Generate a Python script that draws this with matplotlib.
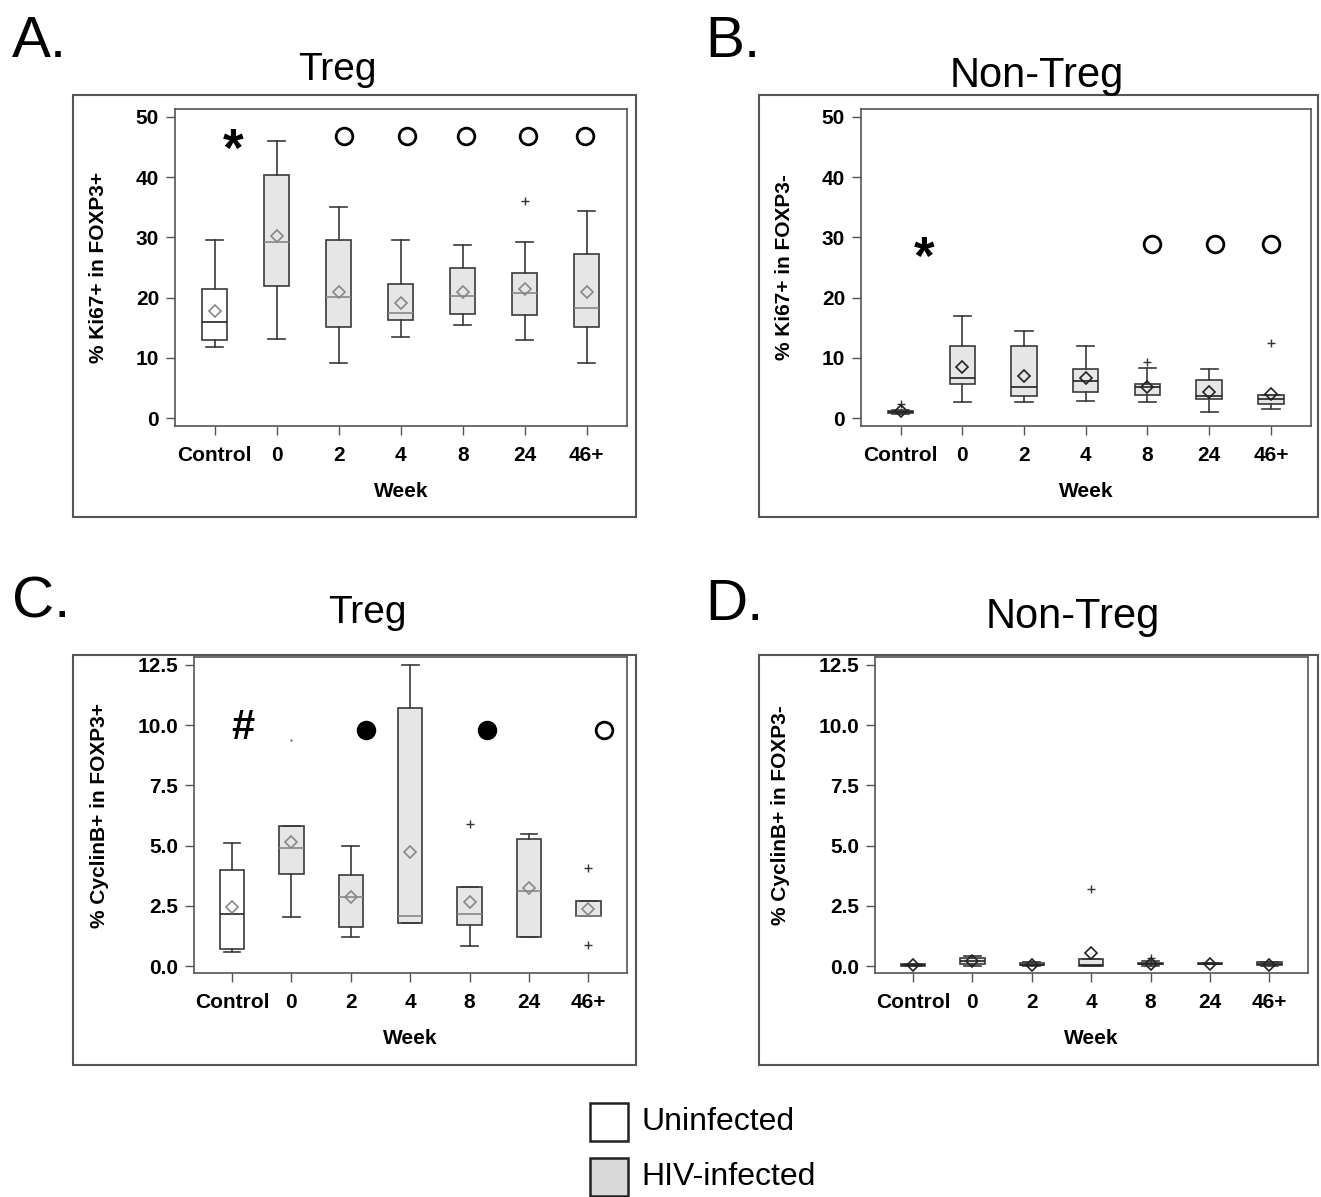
import matplotlib.pyplot as plt
from matplotlib.patches import Rectangle
import numpy as np

plt.rcParams['font.family'] = ['Liberation Sans', 'DejaVu Sans']

# x categories
weeks = ['Control', '0', '2', '4', '8', '24', '46+']

# A. Treg Ki67+
a_lo = [11.8, 13.1, 9.2, 13.5, 15.4, 13.0, 9.2]
a_q1 = [13.0, 22.0, 15.1, 16.3, 17.3, 17.1, 15.2]
a_med = [16.0, 29.2, 20.1, 17.4, 20.2, 20.8, 18.3]
a_q3 = [21.4, 40.4, 29.5, 22.3, 25.0, 24.1, 27.3]
a_hi = [29.5, 46.0, 35.1, 29.5, 28.8, 29.3, 34.3]
a_mean = [17.7, 30.3, 20.9, 19.1, 21.0, 21.5, 20.9]
a_out = [[], [], [], [], [], [36.1], []]

# B. Non-Treg Ki67+
b_lo = [0.7, 2.7, 2.7, 2.8, 2.7, 1.05, 1.6]
b_q1 = [0.9, 5.6, 3.6, 4.4, 3.9, 3.1, 2.4]
b_med = [1.05, 6.6, 5.1, 6.2, 5.2, 3.6, 3.1]
b_q3 = [1.2, 12.0, 12.0, 8.2, 5.7, 6.3, 3.9]
b_hi = [1.4, 16.9, 14.4, 11.9, 8.4, 8.1, 3.9]
b_mean = [1.2, 8.5, 7.0, 6.6, 5.2, 4.3, 4.0]
b_out = [[2.4], [], [], [], [9.3], [], [12.4]]

# C. Treg CyclinB+
c_lo = [0.6, 2.02, 1.22, 1.8, 0.82, 1.22, 2.08]
c_q1 = [0.69, 3.81, 1.63, 1.80, 1.69, 1.22, 2.08]
c_med = [2.15, 4.91, 2.88, 2.09, 2.16, 3.13, 2.08]
c_q3 = [3.99, 5.81, 3.78, 10.7, 3.28, 5.29, 2.71]
c_hi = [5.09, 5.81, 5.0, 12.5, 3.28, 5.5, 2.71]
c_mean = [2.45, 5.14, 2.88, 4.75, 2.66, 3.25, 2.38]
c_out = [[], [], [], [], [5.88], [], [4.08, 0.87]]
c_dot_x = [2]
c_dot_y = [9.4]

# D. Non-Treg CyclinB+
d_lo = [0.0, 0.02, 0.0, 0.0, 0.0, 0.08, 0.0]
d_q1 = [0.02, 0.08, 0.03, 0.0, 0.08, 0.09, 0.03]
d_med = [0.05, 0.22, 0.06, 0.05, 0.10, 0.10, 0.10]
d_q3 = [0.10, 0.33, 0.12, 0.28, 0.12, 0.11, 0.15]
d_hi = [0.10, 0.40, 0.15, 0.28, 0.22, 0.12, 0.17]
d_mean = [0.03, 0.20, 0.06, 0.52, 0.10, 0.08, 0.05]
d_out = [[], [], [], [3.18], [0.32], [], []]

# significance marks
a_star = (1.3, 44.2)
a_open_x = [3.08, 4.1, 5.05, 6.05, 6.98]
a_open_y = 46.9
b_star = (1.38, 26.2)
b_open_x = [5.08, 6.09, 7.0]
b_open_y = 28.9
c_hash = (1.18, 9.9)
c_fill_x = [3.26, 5.29]
c_open_x = [7.27]
c_mark_y = 9.8

W, H = 1321, 1197
fig = plt.figure(figsize=(W / 100, H / 100), dpi=100)


def fx(px):
    return px / W


def fy(py):
    return 1 - py / H


def panel(rect_px, lo, q1, med, q3, hi, mean, out, ylim, yticks, ylabel,
          med_col, mean_col, yfmt):
    l, t, r, b = rect_px
    ax = fig.add_axes([fx(l), fy(b), fx(r - l), fy(t) - fy(b)])
    stats = []
    for i in range(len(weeks)):
        stats.append(dict(med=med[i], q1=q1[i], q3=q3[i], whislo=lo[i],
                          whishi=hi[i], mean=mean[i], fliers=out[i]))
    bp = ax.bxp(stats, positions=np.arange(1, 8), widths=0.41,
                capwidths=0.28, patch_artist=True, showmeans=True,
                boxprops=dict(edgecolor='#3a3a3a', linewidth=1.2),
                whiskerprops=dict(color='#3a3a3a', linewidth=1.2),
                capprops=dict(color='#3a3a3a', linewidth=1.2),
                medianprops=dict(color=med_col, linewidth=1.2),
                meanprops=dict(marker='D', markerfacecolor='none',
                               markeredgecolor=mean_col, markersize=6,
                               markeredgewidth=1.2),
                flierprops=dict(marker='+', markeredgecolor='#333333',
                                markersize=6, markeredgewidth=1.0))
    for i, p in enumerate(bp['boxes']):
        p.set_facecolor('white' if i == 0 else '#e6e6e6')
    bp['medians'][0].set_color('#222222')
    ax.set_xlim(0.36, 7.65)
    ax.set_ylim(*ylim)
    ax.set_yticks(yticks)
    ax.set_yticklabels([yfmt.format(v) for v in yticks])
    ax.set_xticks(np.arange(1, 8))
    ax.set_xticklabels(weeks)
    for s in ax.spines.values():
        s.set_color('#555555')
        s.set_linewidth(1.2)
    ax.tick_params(direction='out', length=6.5, width=1, color='#555555',
                   labelsize=15, pad=5)
    ax.tick_params(axis='x', pad=8)
    for lab in ax.get_xticklabels() + ax.get_yticklabels():
        lab.set_fontweight('bold')
    ax.set_ylabel(ylabel, fontsize=15, fontweight='bold', labelpad=20)
    ax.set_xlabel('Week', fontsize=15, fontweight='bold', labelpad=12)
    return ax


# frames around panels
for (l, t, r, b) in [(73, 95, 636, 517), (759, 95, 1318, 517),
                     (73, 655, 636, 1065), (759, 655, 1318, 1065)]:
    fig.add_artist(Rectangle((fx(l), fy(b)), fx(r - l), fy(t) - fy(b),
                             transform=fig.transFigure, fill=False,
                             edgecolor='#555555', linewidth=1.5))

axA = panel((175, 109, 627, 426), a_lo, a_q1, a_med, a_q3, a_hi, a_mean, a_out,
            (-1.3, 51.3), [0, 10, 20, 30, 40, 50], '% Ki67+ in FOXP3+',
            '#888888', '#888888', '{:.0f}')
axB = panel((861, 109, 1311, 426), b_lo, b_q1, b_med, b_q3, b_hi, b_mean, b_out,
            (-1.3, 51.3), [0, 10, 20, 30, 40, 50], '% Ki67+ in FOXP3-',
            '#222222', '#222222', '{:.0f}')
axC = panel((194, 657, 627, 973), c_lo, c_q1, c_med, c_q3, c_hi, c_mean, c_out,
            (-0.29, 12.83), [0, 2.5, 5, 7.5, 10, 12.5], '% CyclinB+ in FOXP3+',
            '#888888', '#888888', '{:.1f}')
axD = panel((875, 657, 1308, 973), d_lo, d_q1, d_med, d_q3, d_hi, d_mean, d_out,
            (-0.29, 12.83), [0, 2.5, 5, 7.5, 10, 12.5], '% CyclinB+ in FOXP3-',
            '#222222', '#222222', '{:.1f}')

# significance markers
axA.text(*a_star, '*', fontsize=38, fontweight='bold', ha='center', va='center')
axA.plot(a_open_x, [a_open_y] * len(a_open_x), 'o', ms=12, mfc='white',
         mec='black', mew=2)
axB.text(*b_star, '*', fontsize=38, fontweight='bold', ha='center', va='center')
axB.plot(b_open_x, [b_open_y] * len(b_open_x), 'o', ms=12, mfc='white',
         mec='black', mew=2)
axC.text(*c_hash, '#', fontsize=30, fontweight='bold', ha='center', va='center')
axC.plot(c_fill_x, [c_mark_y] * len(c_fill_x), 'o', ms=12, mfc='black',
         mec='black', mew=2)
axC.plot(c_open_x, [c_mark_y] * len(c_open_x), 'o', ms=12, mfc='white',
         mec='black', mew=2)
axC.plot(c_dot_x, c_dot_y, '.', ms=1.5, color='#777777')

# panel letters and titles
for txt, x, y in [('A.', 12, 57), ('B.', 705, 57), ('C.', 12, 618), ('D.', 705, 620)]:
    fig.text(fx(x), fy(y), txt, fontsize=42, ha='left', va='baseline')
for txt, x, y, fs in [('Treg', 337, 80, 28), ('Non-Treg', 1037, 87, 30),
                      ('Treg', 367, 623, 28), ('Non-Treg', 1073, 628, 30)]:
    fig.text(fx(x), fy(y), txt, fontsize=fs, ha='center', va='baseline')

# legend
for txt, fc, top in [('Uninfected', 'white', 1103), ('HIV-infected', '#d9d9d9', 1158)]:
    fig.add_artist(Rectangle((fx(590), fy(top + 38)), fx(38), fy(top) - fy(top + 38),
                             transform=fig.transFigure, facecolor=fc,
                             edgecolor='#222222', linewidth=1.8))
    fig.text(fx(641), fy(top + 19), txt, fontsize=23, ha='left', va='center')

fig.savefig('out.png', dpi=100)
